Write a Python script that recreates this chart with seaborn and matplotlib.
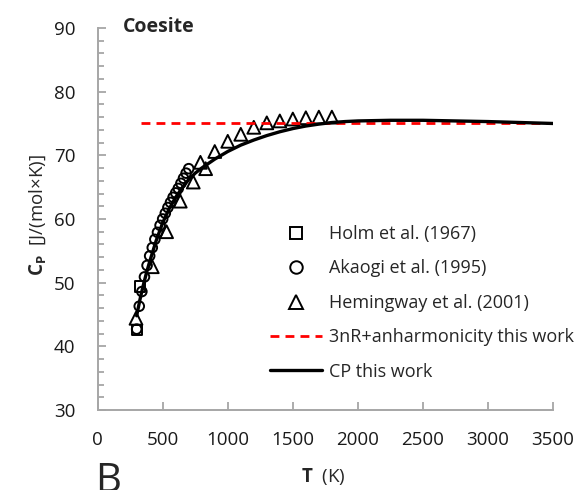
import matplotlib
matplotlib.use("Agg")
import matplotlib.pyplot as plt
import seaborn as sns
from matplotlib.lines import Line2D
from matplotlib.ticker import MultipleLocator

# Heat capacity of coesite, Cp in J/(mol K) versus temperature in K
holm_T = [300, 325]
holm_cp = [42.6, 49.4]

akaogi_T = [300, 320, 340, 360, 380, 400, 420, 440, 460, 480, 500,
            520, 540, 560, 580, 600, 620, 640, 660, 680, 700]
akaogi_cp = [42.7, 46.3, 48.6, 50.9, 52.7, 54.2, 55.5, 56.8, 57.9, 59.0, 60.0,
             60.9, 61.8, 62.6, 63.4, 64.1, 64.8, 65.6, 66.4, 67.2, 67.9]

hemingway_T = [295, 420, 530, 635, 735, 790, 830, 900, 1000, 1100, 1200,
               1300, 1400, 1500, 1600, 1700, 1800]
hemingway_cp = [44.4, 52.5, 58.0, 62.8, 65.8, 68.9, 67.9, 70.6, 72.2, 73.3, 74.4,
                75.1, 75.4, 75.7, 75.9, 76.0, 76.0]

limit_T = [330, 3500]
limit_cp = [75.0, 75.0]

model_T = [300, 325, 350, 375, 400, 450, 500, 550, 600, 650, 700, 750, 800,
           900, 1000, 1100, 1200, 1300, 1400, 1500, 1600, 1700, 1800, 1900,
           2000, 2250, 2500, 2750, 3000, 3250, 3500]
model_cp = [44.8, 47.3, 49.5, 51.5, 53.3, 56.6, 59.4, 61.6, 63.4, 64.9, 66.2, 67.2, 68.0,
            69.4, 70.6, 71.6, 72.4, 73.1, 73.7, 74.2, 74.6, 74.9, 75.15, 75.3,
            75.4, 75.5, 75.5, 75.4, 75.3, 75.15, 75.0]

labels = ["Holm et al. (1967)", "Akaogi et al. (1995)", "Hemingway et al. (2001)",
          "3nR+anharmonicity this work", "CP this work"]
x_ticks = [0, 500, 1000, 1500, 2000, 2500, 3000, 3500]
y_ticks = [30, 40, 50, 60, 70, 80, 90]

sns.set_theme(style="white")
plt.rcParams["font.family"] = ["Open Sans", "DejaVu Sans"]
plt.rcParams["mathtext.fontset"] = "custom"
plt.rcParams["mathtext.rm"] = "Open Sans"
plt.rcParams["mathtext.bf"] = "Open Sans:bold"

fig = plt.figure(figsize=(5.81, 4.90), dpi=100)
ax = fig.add_axes([0.168, 0.1633, 0.784, 0.7796])

mk = dict(facecolor="none", edgecolor="black", linewidth=1.4, legend=False, ax=ax)
sns.scatterplot(x=holm_T, y=holm_cp, marker="s", s=55, **mk)
sns.scatterplot(x=akaogi_T, y=akaogi_cp, marker="o", s=48, **mk)
sns.scatterplot(x=hemingway_T, y=hemingway_cp, marker="^", s=85, **mk)

sns.lineplot(x=limit_T, y=limit_cp, color="#ff0000", linewidth=2.0, ax=ax)
ax.lines[-1].set_dashes([3.2, 2.2])
sns.lineplot(x=model_T, y=model_cp, color="black", linewidth=2.4, ax=ax)

ax.set_xlim(0, 3500)
ax.set_ylim(30, 90)
ax.set_xticks(x_ticks)
ax.set_yticks(y_ticks)
ax.yaxis.set_minor_locator(MultipleLocator(2))
ax.set_xlabel("")
ax.set_ylabel("")

grey = "#a6a6a6"
for side in ("top", "right"):
    ax.spines[side].set_visible(False)
for side in ("left", "bottom"):
    ax.spines[side].set_color(grey)
    ax.spines[side].set_linewidth(1.4)

ax.tick_params(axis="both", which="both", direction="in", color=grey, width=1.3,
               labelsize=13.5, labelcolor="#1a1a1a")
ax.tick_params(axis="y", which="major", length=6, pad=16, left=True)
ax.tick_params(axis="y", which="minor", length=4, left=True)
ax.tick_params(axis="x", which="major", length=6, pad=15, bottom=True)

fig.text(123 / 581, 1 - 27 / 490, "Coesite", fontsize=14, fontweight="bold",
         ha="left", va="center")
fig.text(38 / 581, 1 - 215 / 490, r"$\mathbf{C_P}$  [J/(mol×K)]", fontsize=13.5,
         rotation=90, ha="center", va="center")
fig.text(323 / 581, 1 - 476 / 490, r"$\mathbf{T}$  (K)", fontsize=13.5,
         ha="center", va="center")
fig.text(95 / 581, 1 - 461 / 490, "B", fontsize=29, ha="left", va="top")

mh = dict(linestyle="none", markerfacecolor="none", markeredgecolor="black",
          markeredgewidth=1.4)
handles = [
    Line2D([], [], marker="s", markersize=9, **mh),
    Line2D([], [], marker="o", markersize=9, **mh),
    Line2D([], [], marker="^", markersize=10, **mh),
    Line2D([], [], color="#ff0000", linewidth=2.0, dashes=[3.2, 2.2]),
    Line2D([], [], color="black", linewidth=2.4),
]
fig.legend(handles, labels, loc="upper left", bbox_to_anchor=(270 / 581, 1 - 225 / 490),
           frameon=False, fontsize=13, handlelength=2.9, handletextpad=0.35,
           labelspacing=0.91, borderpad=0, borderaxespad=0)

fig.savefig("out.png", dpi=100)
